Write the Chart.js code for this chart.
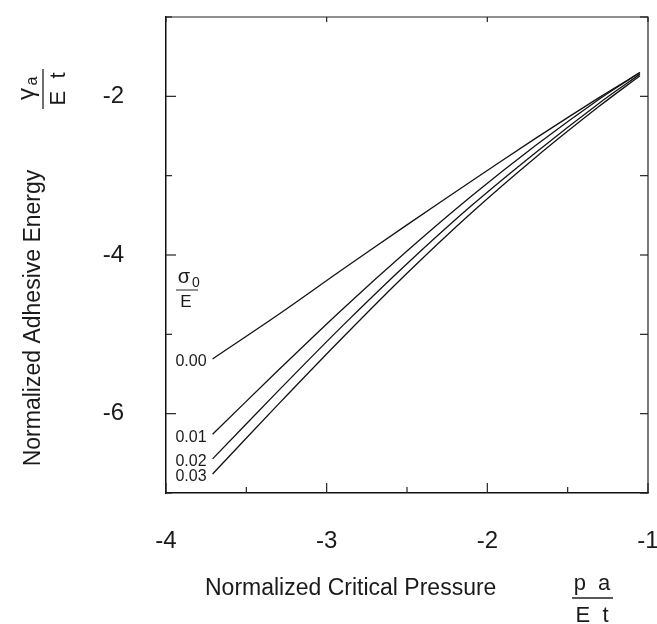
<!DOCTYPE html>
<html>
<head>
<meta charset="utf-8">
<script src="https://cdn.jsdelivr.net/npm/chart.js@4"></script>
<style>
  html, body { margin: 0; padding: 0; background: #fff; }
  canvas { display: block; }
</style>
</head>
<body>
<canvas id="chart" width="657" height="624"></canvas>
<script>
// normalized critical pressure (x) and normalized adhesive energy (y), one list per sigma0/E
const pressure = [-3.71, -3.3, -2.9, -2.5, -2.1, -1.7, -1.3, -1.05];
const energy000 = [-5.31, -4.75, -4.18, -3.62, -3.07, -2.53, -2.01, -1.70];
const energy001 = [-6.26, -5.45, -4.68, -3.95, -3.26, -2.62, -2.03, -1.70];
const energy002 = [-6.57, -5.71, -4.89, -4.11, -3.38, -2.71, -2.08, -1.72];
const energy003 = [-6.76, -5.88, -5.04, -4.23, -3.47, -2.77, -2.12, -1.74];
const stressLabels = ['0.00', '0.01', '0.02', '0.03'];

const xTickLabels = [-4, -3, -2, -1];
const yTickLabels = [-2, -4, -6];

const FONT = '"Liberation Sans", Arial, sans-serif';
const INK = '#1a1a1a';

const allSeries = [energy000, energy001, energy002, energy003];
const datasets = allSeries.map((ys, i) => ({
    label: stressLabels[i],
    data: ys.map((v, k) => ({ x: pressure[k], y: v })),
    borderColor: '#111', borderWidth: 1.3, pointRadius: 0,
    tension: 0.3, fill: false
}));

// keep the plot box where the reference has it
const noEdgePadding = s => { s.paddingLeft = 0; s.paddingRight = 0; s.paddingTop = 0; s.paddingBottom = 0; };

const decorPlugin = {
    id: 'decor',
    afterDatasetsDraw(chart) {
        const { ctx, chartArea: a, scales: { x, y } } = chart;
        ctx.save();
        ctx.strokeStyle = '#222'; ctx.lineWidth = 1.2;
        ctx.beginPath(); ctx.moveTo(a.left, a.top); ctx.lineTo(a.right, a.top); ctx.lineTo(a.right, a.bottom); ctx.stroke();

        // inward tick marks
        x.ticks.forEach(t => {
            const px = x.getPixelForValue(t.value);
            const len = Number.isInteger(t.value) ? 10 : 6;
            ctx.beginPath(); ctx.moveTo(px, a.bottom); ctx.lineTo(px, a.bottom - len); ctx.stroke();
            if (Number.isInteger(t.value)) { ctx.beginPath(); ctx.moveTo(px, a.top); ctx.lineTo(px, a.top + 5); ctx.stroke(); }
        });
        y.ticks.forEach(t => {
            const py = y.getPixelForValue(t.value);
            const len = t.value % 2 === 0 ? 10 : 6;
            ctx.beginPath(); ctx.moveTo(a.left, py); ctx.lineTo(a.left + len, py); ctx.stroke();
            ctx.beginPath(); ctx.moveTo(a.right, py); ctx.lineTo(a.right - 8, py); ctx.stroke();
        });

        // series labels at the start of each curve
        ctx.fillStyle = INK; ctx.font = '16px ' + FONT;
        ctx.textAlign = 'right'; ctx.textBaseline = 'middle';
        allSeries.forEach((ys, i) => {
            ctx.fillText(stressLabels[i], x.getPixelForValue(pressure[0]) - 6, y.getPixelForValue(ys[0]) + 3);
        });

        // sigma0 / E header
        ctx.textAlign = 'center'; ctx.textBaseline = 'alphabetic';
        ctx.font = '20px ' + FONT; ctx.fillText('σ', 184, 283);
        ctx.font = '14px ' + FONT; ctx.fillText('0', 196, 287);
        ctx.lineWidth = 1; ctx.beginPath(); ctx.moveTo(176, 290); ctx.lineTo(198, 290); ctx.stroke();
        ctx.font = '17px ' + FONT; ctx.fillText('E', 186, 307);

        // axis titles
        ctx.font = '23px ' + FONT; ctx.textAlign = 'left';
        ctx.fillText('Normalized Critical Pressure', 205, 595);
        ctx.save(); ctx.translate(40, 318); ctx.rotate(-Math.PI / 2);
        ctx.textAlign = 'center'; ctx.fillText('Normalized Adhesive Energy', 0, 0);
        ctx.restore();

        // p a / E t fraction
        ctx.textAlign = 'center'; ctx.font = '22px ' + FONT;
        ctx.fillText('p  a', 592, 590);
        ctx.lineWidth = 1.3; ctx.beginPath(); ctx.moveTo(572, 598); ctx.lineTo(613, 598); ctx.stroke();
        ctx.fillText('E  t', 592, 622);

        // gamma_a / E t fraction, rotated
        ctx.save(); ctx.translate(43, 89); ctx.rotate(-Math.PI / 2);
        ctx.beginPath(); ctx.moveTo(-20, 0); ctx.lineTo(20, 0); ctx.stroke();
        ctx.font = '24px ' + FONT; ctx.textAlign = 'center';
        ctx.fillText('γ', -5, -9);
        ctx.font = '16px ' + FONT; ctx.fillText('a', 8, -6);
        ctx.font = '22px ' + FONT; ctx.fillText('E  t', 0, 22);
        ctx.restore();

        ctx.restore();
    }
};

new Chart(document.getElementById('chart'), {
    type: 'line',
    data: { datasets },
    options: {
        responsive: false, animation: false,
        layout: { padding: { left: 0, right: 9, top: 17, bottom: 0 } },
        plugins: { legend: { display: false }, tooltip: { enabled: false } },
        scales: {
            x: {
                type: 'linear', min: -4, max: -1,
                grid: { display: false },
                border: { display: true, color: '#111', width: 1.5 },
                ticks: {
                    stepSize: 0.5, autoSkip: false, maxRotation: 0, padding: 26,
                    color: INK, font: { family: FONT, size: 24 },
                    callback: v => xTickLabels.includes(v) ? String(v) : ''
                },
                afterFit: s => { s.height = 131; noEdgePadding(s); }
            },
            y: {
                type: 'linear', min: -7, max: -1,
                grid: { display: false },
                border: { display: true, color: '#111', width: 1.5 },
                ticks: {
                    stepSize: 1, autoSkip: false, padding: 34,
                    color: INK, font: { family: FONT, size: 24 },
                    callback: v => yTickLabels.includes(v) ? String(v) : ''
                },
                afterFit: s => { s.width = 166; noEdgePadding(s); }
            }
        }
    },
    plugins: [decorPlugin]
});
</script>
</body>
</html>
